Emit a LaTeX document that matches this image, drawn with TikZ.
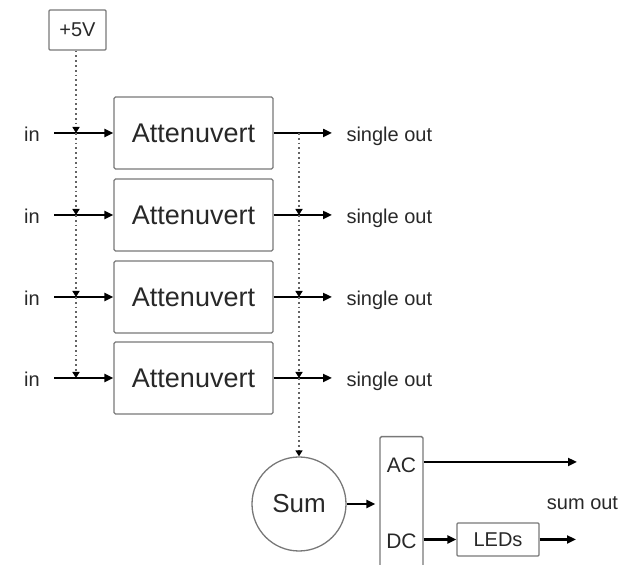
\documentclass[tikz,border=0pt]{standalone}
\usepackage{fontspec}
\setmainfont{Liberation Sans}
\usetikzlibrary{arrows.meta,calc}
\definecolor{boxgray}{RGB}{120,120,120}
\definecolor{dotgray}{RGB}{100,100,100}
\definecolor{txtgray}{RGB}{40,40,40}
\begin{document}
\begin{tikzpicture}[x=1pt,y=1pt,
  blk/.style={draw=boxgray, line width=1.3pt, rounded corners=1.5pt, minimum width=159pt, minimum height=72pt, inner sep=0pt, font=\fontsize{27}{30}\selectfont, text=txtgray},
  lbl/.style={font=\fontsize{20}{22}\selectfont, text=txtgray},
  sig/.style={draw=black, line width=2.6pt, -{Triangle[length=9pt,width=8pt]}},
  ctl/.style={draw=dotgray, line width=1.5pt, dash pattern=on 1.8pt off 3pt, -{Triangle[length=6pt,width=7pt,fill=black,color=black]}},
]
\useasboundingbox (0,0) rectangle (630,565);
% +5V source
\node[lbl, draw=boxgray, line width=1.3pt, rounded corners=1pt, minimum width=57pt, minimum height=40pt, inner sep=0pt] (v5) at (77.5,535) {+5V};
% rows
\foreach \i/\y in {1/432,2/350,3/268,4/187}{
  \node[blk] (att\i) at (193.5,\y) {Attenuvert};
  \node[lbl, anchor=base] (in\i) at (32,\y-9) {in};
  \node[lbl, anchor=base west] (out\i) at (343,\y-9) {single out};
  \coordinate (j\i) at (76,\y);
  \coordinate (k\i) at (299,\y);
  \coordinate (s\i) at (54,\y);
  \coordinate (e\i) at (332,\y);
  \draw[sig] (s\i) -- (att\i.west);
  \draw[sig] (att\i.east) -- (e\i);
}
% +5V distribution
\draw[ctl] (v5.south -| j1) -- (j1);
\draw[ctl] (j1) -- (j2);
\draw[ctl] (j2) -- (j3);
\draw[ctl] (j3) -- (j4);
% sum bus
\node[circle, draw=boxgray, line width=1.3pt, minimum size=94pt, inner sep=0pt, font=\fontsize{26}{28}\selectfont, text=txtgray] (sum) at (299,61) {Sum};
\draw[ctl] (k1) -- (k2);
\draw[ctl] (k2) -- (k3);
\draw[ctl] (k3) -- (k4);
\draw[ctl] (k4) -- (sum.north);
% AC/DC splitter
\node[draw=boxgray, line width=1.3pt, rounded corners=1.5pt, minimum width=43pt, minimum height=150pt, anchor=north, inner sep=0pt] (mix) at (401.5,129) {};
\node[font=\fontsize{21}{23}\selectfont, text=txtgray] (ac) at (401.5,100) {AC};
\node[font=\fontsize{21}{23}\selectfont, text=txtgray] (dc) at (401.5,24) {DC};
\draw[sig, shorten >=4pt] (sum.east) -- (mix.west |- sum.east);
\coordinate (acout) at (577,103);
\draw[sig] (mix.east |- acout) -- (acout);
\node[lbl] (sumout) at (582.5,62) {sum out};
\node[lbl, draw=boxgray, line width=1.3pt, rounded corners=1pt, minimum width=82pt, minimum height=33pt, inner sep=0pt] (leds) at (498,25.5) {LEDs};
\draw[sig] (mix.east |- leds) -- (leds.west);
\coordinate (ledout) at (576,25.5);
\draw[sig] (leds.east) -- (ledout);
\end{tikzpicture}
\end{document}
